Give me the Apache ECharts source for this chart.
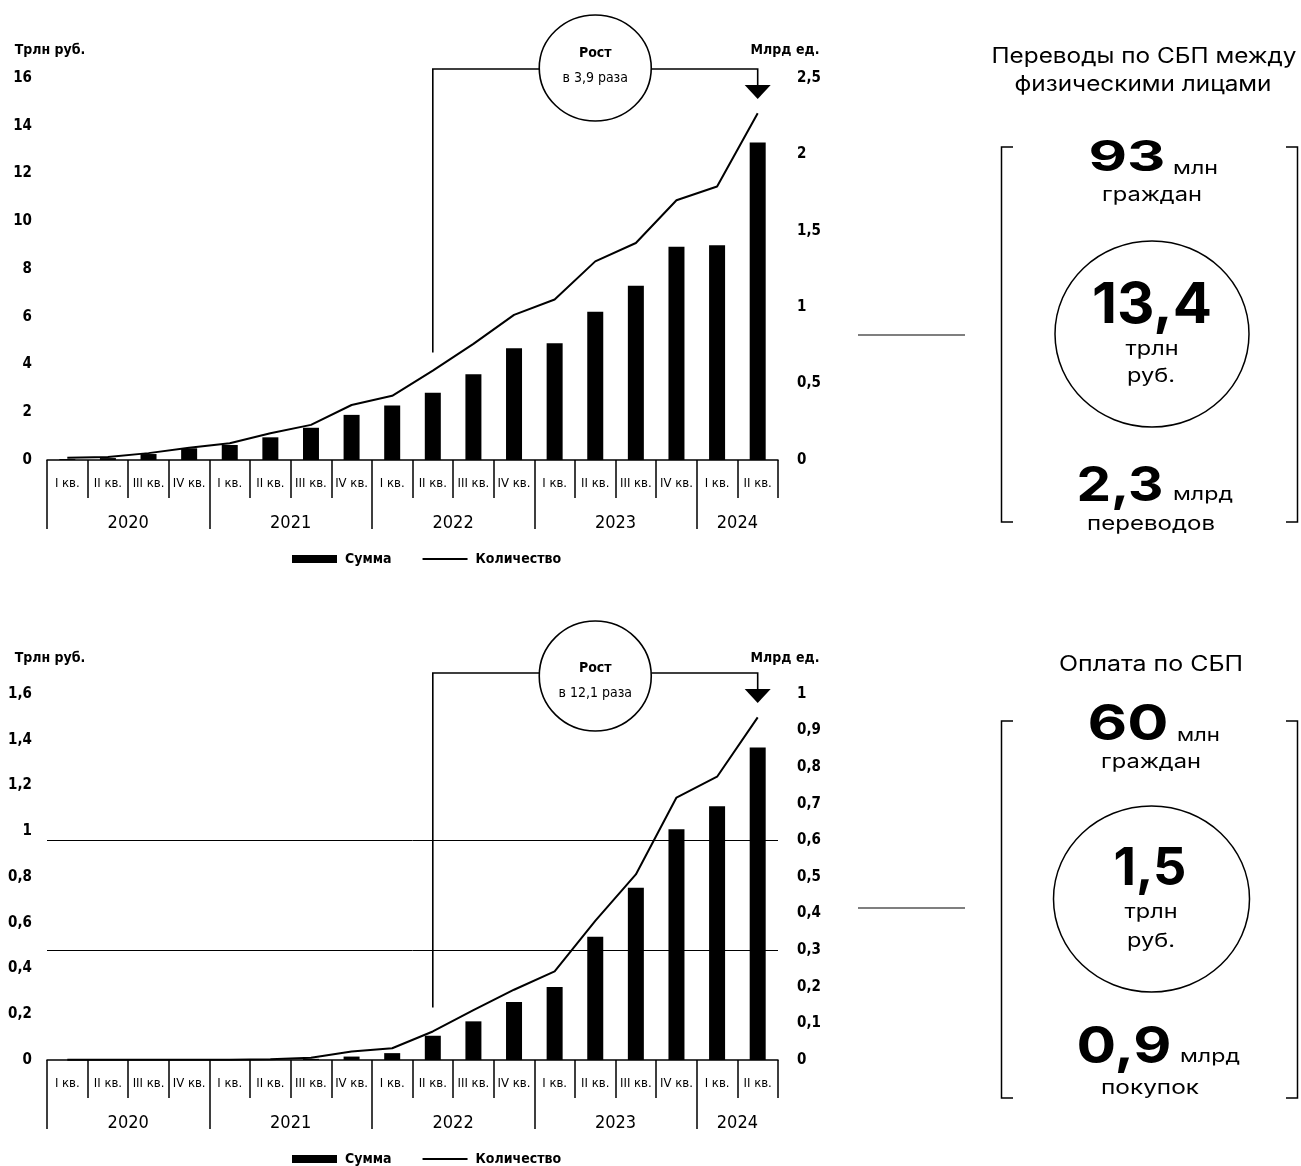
<!DOCTYPE html>
<html><head><meta charset="utf-8">
<script src="https://cdn.jsdelivr.net/npm/echarts@6/dist/echarts.min.js"></script>
<style>html,body{margin:0;padding:0;background:#fff}#c{width:1301px;height:1166px}</style>
</head><body><div id="c"></div>
<script>
// ---------- DATA ----------
const quarters = ['I кв.','II кв.','III кв.','IV кв.','I кв.','II кв.','III кв.','IV кв.','I кв.','II кв.','III кв.','IV кв.','I кв.','II кв.','III кв.','IV кв.','I кв.','II кв.'];
const years = ['2020','2021','2022','2023','2024'];
const yearQuarterCounts = [4,4,4,4,2];
// Transfers between individuals (СБП)
const p2pSum   = [0.04,0.08,0.25,0.49,0.63,0.95,1.35,1.89,2.28,2.82,3.59,4.68,4.89,6.21,7.30,8.93,8.99,13.3];   // трлн руб.
const p2pCount = [0.015,0.02,0.045,0.08,0.11,0.175,0.23,0.36,0.42,0.585,0.76,0.95,1.05,1.30,1.42,1.70,1.79,2.27]; // млрд ед.
// Payments (СБП)
const paySum   = [0,0,0,0,0,0.001,0.005,0.015,0.03,0.106,0.169,0.254,0.319,0.539,0.753,1.009,1.109,1.366];
const payCount = [0.001,0.001,0.001,0.001,0.001,0.002,0.006,0.023,0.032,0.078,0.136,0.192,0.242,0.38,0.507,0.717,0.774,0.936];
const p2pLeftTicks  = {min:0, max:16,  interval:2};
const p2pRightTicks = {min:0, max:2.5, interval:0.5};
const payLeftTicks  = {min:0, max:1.6, interval:0.2};
const payRightTicks = {min:0, max:1,   interval:0.1};
const payGuideLines = [0.3, 0.6];
const legendNames = ['Сумма','Количество'];
const growthLabels = ['в 3,9 раза','в 12,1 раза'];

// ---------- HELPERS ----------
const FONT_AX = "'Liberation Sans Narrow','DejaVu Sans Condensed','Roboto Condensed','Liberation Sans',sans-serif";
const PANEL_FONT = "Inter, 'Noto Sans', sans-serif";
const fmt = v => String(Math.round(v*100)/100).replace('.', ',');

const yearAxisData = [];
const yearTickIdx = new Set();
const yearLabelAt = {};
let acc = 0;
years.forEach((y,i) => { yearTickIdx.add(acc*2); yearLabelAt[acc*2 + yearQuarterCounts[i]] = y; acc += yearQuarterCounts[i]; });
for (let k = 0; k <= acc*2; k++) yearAxisData.push('p' + k);

function xAxesFor(g){
  return [{
    type:'category', gridIndex:g, data:quarters, position:'bottom', boundaryGap:true,
    axisLine:{show:true, lineStyle:{color:'#000', width:1.5}},
    axisTick:{show:true, interval:0, length:38, lineStyle:{color:'#000', width:1.5}},
    axisLabel:{interval:0, margin:17, fontFamily:FONT_AX, fontSize:13, color:'#000'},
    splitLine:{show:false}
  },{
    type:'category', gridIndex:g, data:yearAxisData, position:'bottom', boundaryGap:false,
    axisLine:{show:false},
    axisTick:{show:true, length:69, interval:(i)=>yearTickIdx.has(i), lineStyle:{color:'#000', width:1.5}},
    axisLabel:{interval:(i)=>yearLabelAt[i]!==undefined, formatter:(v,i)=>yearLabelAt[i]||'', margin:54, fontFamily:FONT_AX, fontSize:18, color:'#000'},
    splitLine:{show:false}
  }];
}
function yAxisFor(g, pos, ticks, name, nameGap, pad){
  return Object.assign({
    type:'value', gridIndex:g, position:pos,
    name:name, nameLocation:'end', nameGap:nameGap,
    nameTextStyle:{fontFamily:FONT_AX, fontSize:14, fontWeight:'bold', color:'#000', align:'center', padding:pad},
    axisLine:{show:false}, axisTick:{show:false}, splitLine:{show:false},
    axisLabel:{formatter:fmt, margin: pos==='left'?15:19, fontFamily:FONT_AX, fontSize:15, fontWeight:'bold', color:'#000'}
  }, ticks);
}

const chart = echarts.init(document.getElementById('c'));
const legendCommon = {left:287, itemWidth:45, itemHeight:8, itemGap:30,
  data:[{name:legendNames[0], icon:'rect'},{name:legendNames[1], itemStyle:{opacity:0, borderWidth:0}}],
  textStyle:{fontFamily:FONT_AX, fontSize:14, fontWeight:'bold', color:'#000', padding:[0,0,0,3]}, selectedMode:false};

chart.setOption({
  animation:false,
  backgroundColor:'#fff',
  grid:[{left:47, top:78, width:731, height:382},{left:47, top:694, width:731, height:366}],
  xAxis:[...xAxesFor(0), ...xAxesFor(1)],
  yAxis:[
    yAxisFor(0,'left', p2pLeftTicks, 'Трлн руб.', 21, [0,0,0,6]),
    yAxisFor(0,'right',p2pRightTicks,'Млрд ед.', 21, [0,0,0,14]),
    yAxisFor(1,'left', payLeftTicks, 'Трлн руб.', 29, [0,0,0,6]),
    yAxisFor(1,'right',payRightTicks,'Млрд ед.', 29, [0,0,0,14])
  ],
  legend:[Object.assign({top:547}, legendCommon), Object.assign({top:1147}, legendCommon)],
  series:[
    {name:legendNames[0], type:'bar', xAxisIndex:0, yAxisIndex:0, data:p2pSum, barWidth:16, itemStyle:{color:'#000'}},
    {name:legendNames[1], type:'line', xAxisIndex:0, yAxisIndex:1, data:p2pCount, symbol:'none', lineStyle:{color:'#000', width:2}, itemStyle:{color:'#000'}},
    {name:legendNames[0], type:'bar', xAxisIndex:2, yAxisIndex:2, data:paySum, barWidth:16, itemStyle:{color:'#000'}},
    {name:legendNames[1], type:'line', xAxisIndex:2, yAxisIndex:3, data:payCount, symbol:'none', lineStyle:{color:'#000', width:2}, itemStyle:{color:'#000'},
      markLine:{silent:true, symbol:['none','none'], label:{show:false}, lineStyle:{color:'#000', width:1, type:'solid'},
        data: payGuideLines.map(v => ({yAxis:v}))}}
  ]
});

// ---------- ANNOTATIONS (positions derived from the axes) ----------
function annotation(seriesIdx, counts, i0, i1, baseY, cy, rx, ry, gapBelow, t1dy, t2dy, label){
  const p0 = chart.convertToPixel({seriesIndex:seriesIdx}, [i0, counts[i0]]);
  const p1 = chart.convertToPixel({seriesIndex:seriesIdx}, [i1, counts[i1]]);
  const cx = (p0[0] + p1[0]) / 2;
  const st = {stroke:'#000', lineWidth:1.6, fill:null};
  return [
    {type:'polyline', silent:true, shape:{points:[[p0[0], p0[1]-gapBelow],[p0[0], baseY],[cx-rx, baseY]]}, style:st},
    {type:'polyline', silent:true, shape:{points:[[cx+rx, baseY],[p1[0], baseY],[p1[0], baseY+17]]}, style:st},
    {type:'polygon', silent:true, shape:{points:[[p1[0]-13, baseY+16],[p1[0]+13, baseY+16],[p1[0], baseY+30]]}, style:{fill:'#000'}},
    {type:'ellipse', silent:true, shape:{cx:cx, cy:cy, rx:rx, ry:ry}, style:{stroke:'#000', lineWidth:1.6, fill:'#fff'}},
    {type:'text', silent:true, style:{text:'Рост', x:cx, y:cy+t1dy, font:`bold 14px ${FONT_AX}`, fill:'#000', textAlign:'center', textVerticalAlign:'middle'}},
    {type:'text', silent:true, style:{text:label, x:cx, y:cy+t2dy, font:`14px ${FONT_AX}`, fill:'#000', textAlign:'center', textVerticalAlign:'middle'}}
  ];
}

// ---------- RIGHT PANELS ----------
const mctx = document.createElement('canvas').getContext('2d');
function ptext(str, x, y, size, weight, align, targetW){
  const font = `${weight} ${size}px ${PANEL_FONT}`;
  mctx.font = font;
  const w = mctx.measureText(str).width;
  const sx = targetW ? targetW / w : 1;
  return {type:'text', silent:true, x:x, y:y, scaleX:sx, scaleY:1,
    style:{text:str, x:0, y:0, font:font, fill:'#000', textAlign:align, textVerticalAlign:'middle'}};
}
function bracketPair(top, bottom){
  const st = {stroke:'#000', lineWidth:1.5, fill:null};
  return [
    {type:'polyline', silent:true, shape:{points:[[1013,top],[1001.5,top],[1001.5,bottom],[1013,bottom]]}, style:st},
    {type:'polyline', silent:true, shape:{points:[[1286,top],[1297.5,top],[1297.5,bottom],[1286,bottom]]}, style:st}
  ];
}
function hline(x1,x2,y){ return {type:'line', silent:true, shape:{x1:x1,y1:y,x2:x2,y2:y}, style:{stroke:'#000', lineWidth:1.2}}; }
function ell(cx,cy,rx,ry){ return {type:'ellipse', silent:true, shape:{cx,cy,rx,ry}, style:{stroke:'#000', lineWidth:1.5, fill:null}}; }

const W = 400;
const panel = [
  // top panel
  ptext('Переводы по СБП между', 1144, 57, 21, W, 'center', 305),
  ptext('физическими лицами', 1143, 85, 21, W, 'center', 257),
  ...bracketPair(147, 522),
  hline(858, 965, 335),
  ptext('93', 1127, 158, 42, 700, 'center', 77),
  ptext('млн', 1173, 169, 18, W, 'left', 45),
  ptext('граждан', 1152, 195, 19, W, 'center', 100),
  ell(1152, 334, 97, 93),
  ptext('13,4', 1152, 306, 57, 700, 'center', 120),
  ptext('трлн', 1152, 349, 19, W, 'center', 53),
  ptext('руб.', 1151, 376, 19, W, 'center', 48),
  ptext('2,3', 1120, 487, 48, 700, 'center', 87),
  ptext('млрд', 1173, 495, 18, W, 'left', 60),
  ptext('переводов', 1151, 524, 19, W, 'center', 128),
  // bottom panel
  ptext('Оплата по СБП', 1151, 665, 21, W, 'center', 184),
  ...bracketPair(721, 1098),
  hline(858, 965, 908),
  ptext('60', 1128, 725, 50, 700, 'center', 81),
  ptext('млн', 1177, 736, 18, W, 'left', 43),
  ptext('граждан', 1151, 762, 19, W, 'center', 100),
  ell(1151.5, 899, 98, 93),
  ptext('1,5', 1150, 869, 52, 700, 'center', 73),
  ptext('трлн', 1151, 912, 19, W, 'center', 53),
  ptext('руб.', 1151, 941, 19, W, 'center', 48),
  ptext('0,9', 1124, 1048, 51, 700, 'center', 95),
  ptext('млрд', 1180, 1057, 18, W, 'left', 60),
  ptext('покупок', 1150, 1088, 19, W, 'center', 98)
];

const graphics = [
  ...annotation(1, p2pCount, 9, 17, 69, 68, 56, 53, 18, -15, 10, growthLabels[0]),
  ...annotation(3, payCount, 9, 17, 673, 676, 56, 55, 24, -8, 17, growthLabels[1]),
  ...panel
];
chart.setOption({graphic:{elements:graphics}});
</script>
</body></html>
